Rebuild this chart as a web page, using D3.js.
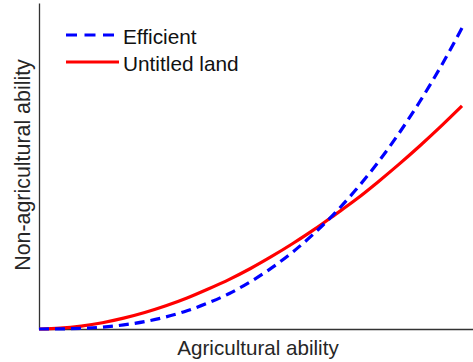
<!DOCTYPE html>
<html>
<head>
<meta charset="utf-8">
<script src="https://cdn.jsdelivr.net/npm/d3@7"></script>
<style>
  html, body { margin: 0; padding: 0; background: #fff; }
  svg { display: block; font-family: "Liberation Sans", Arial, Helvetica, sans-serif; }
</style>
</head>
<body>
<svg id="chart" width="473" height="362"></svg>
<script>
// Agricultural ability (shared x samples)
const ability = [0, 0.05, 0.1, 0.15, 0.2, 0.25, 0.3, 0.35, 0.4, 0.45, 0.5,
                 0.55, 0.6, 0.65, 0.7, 0.75, 0.8, 0.85, 0.9, 0.95, 1];
// Non-agricultural ability, efficient allocation
const efficient = [0, 0.0003, 0.0021, 0.0063, 0.0136, 0.0247, 0.0401, 0.0606, 0.0868, 0.118, 0.157,
                   0.203, 0.256, 0.317, 0.386, 0.464, 0.551, 0.648, 0.755, 0.872, 1];
// Non-agricultural ability, untitled land
const untitled = [0, 0.0027, 0.0098, 0.0209, 0.036, 0.0547, 0.077, 0.103, 0.133, 0.165, 0.201,
                  0.241, 0.284, 0.330, 0.380, 0.431, 0.487, 0.546, 0.608, 0.673, 0.741];
const seriesNames = ["Efficient", "Untitled land"];
const axisTitles = { x: "Agricultural ability", y: "Non-agricultural ability" };

const svg = d3.select("#chart");
const W = 473;
const plotLeft = 39, plotBottom = 329, plotTop = 3;

const x = d3.scaleLinear().domain([0, 1]).range([plotLeft, 462]);
const y = d3.scaleLinear().domain([0, 1]).range([plotBottom, 28]);

const axisColor = "#333";
const textColor = "#262626";

// Axes: plain lines, no ticks
const xAxis = d3.axisBottom(d3.scaleLinear().range([plotLeft, W])).tickValues([]).tickSizeOuter(0);
svg.append("g").attr("transform", `translate(0,${plotBottom})`).call(xAxis)
  .select(".domain").attr("stroke", axisColor).attr("stroke-width", 1.3);
const yAxis = d3.axisLeft(d3.scaleLinear().range([plotBottom, plotTop])).tickValues([]).tickSizeOuter(0);
svg.append("g").attr("transform", `translate(${plotLeft},0)`).call(yAxis)
  .select(".domain").attr("stroke", axisColor).attr("stroke-width", 1.3);

const line = d3.line().curve(d3.curveMonotoneX);

const styles = [
  { data: efficient, color: "#0000ff", dash: "10,6" },
  { data: untitled, color: "#ff0000", dash: null }
];

// Draw the dashed curve on top of the red one
[styles[1], styles[0]].forEach(s => {
  svg.append("path")
    .attr("d", line(ability.map((a, i) => [x(a), y(s.data[i])])))
    .attr("fill", "none")
    .attr("stroke", s.color)
    .attr("stroke-width", 3.2)
    .attr("stroke-dasharray", s.dash);
});

// Legend
const legend = svg.append("g");
styles.forEach((s, i) => {
  const ly = 35 + i * 27;
  legend.append("line")
    .attr("x1", 66).attr("x2", 119).attr("y1", ly).attr("y2", ly)
    .attr("stroke", s.color).attr("stroke-width", 3.2)
    .attr("stroke-dasharray", s.dash ? "11,7.5" : null);
  legend.append("text")
    .attr("x", 123).attr("y", ly + 9)
    .attr("font-size", 20.8).attr("fill", "#111")
    .text(seriesNames[i]);
});

// Axis titles
svg.append("text")
  .attr("x", 258).attr("y", 355)
  .attr("text-anchor", "middle").attr("font-size", 20.6).attr("fill", textColor)
  .text(axisTitles.x);
svg.append("text")
  .attr("transform", "translate(29.5,165) rotate(-90)")
  .attr("text-anchor", "middle").attr("font-size", 21.4).attr("fill", textColor)
  .text(axisTitles.y);
</script>
</body>
</html>
